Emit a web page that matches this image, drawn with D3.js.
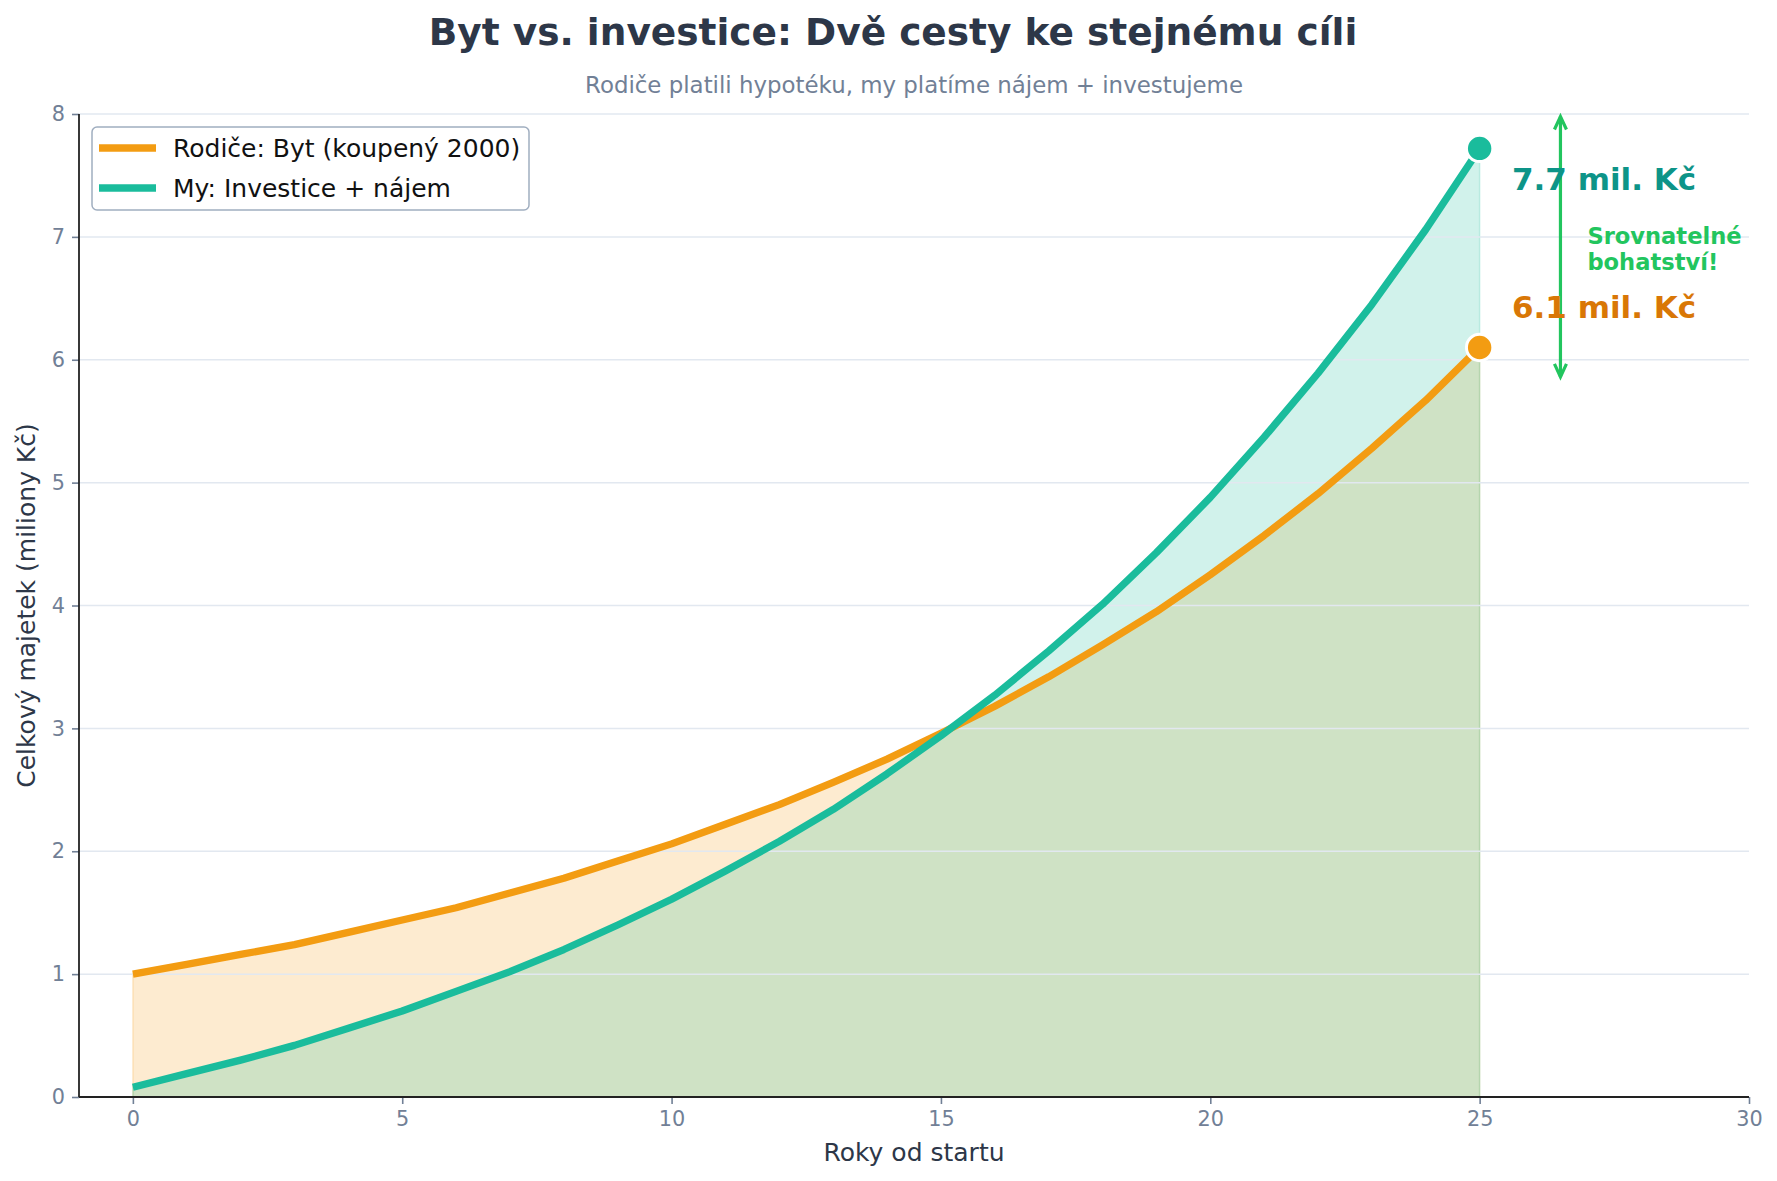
<!DOCTYPE html>
<html>
<head>
<meta charset="utf-8">
<script src="https://cdn.jsdelivr.net/npm/d3@7"></script>
<style>
  html, body { margin: 0; padding: 0; background: #ffffff; }
  svg { display: block; font-family: "DejaVu Sans", sans-serif; }
</style>
</head>
<body>
<svg id="chart" width="1777" height="1181"></svg>
<script>
// ---- data ----
const years = [0,1,2,3,4,5,6,7,8,9,10,11,12,13,14,15,16,17,18,19,20,21,22,23,24,25];
const parentsValues = [1.00,1.08,1.16,1.24,1.34,1.44,1.54,1.66,1.78,1.92,2.06,2.22,2.38,2.56,2.75,2.96,3.18,3.42,3.68,3.95,4.25,4.57,4.91,5.28,5.67,6.10];
const ourValues = [0.08,0.19,0.30,0.42,0.56,0.70,0.86,1.02,1.20,1.40,1.61,1.84,2.08,2.34,2.63,2.94,3.27,3.63,4.01,4.43,4.88,5.37,5.89,6.45,7.06,7.72];
const seriesNames = ["Rodiče: Byt (koupený 2000)", "My: Investice + nájem"];
const xTicks = [0,5,10,15,20,25,30];
const yTicks = [0,1,2,3,4,5,6,7,8];
const titleText = "Byt vs. investice: Dvě cesty ke stejnému cíli";
const subtitleText = "Rodiče platili hypotéku, my platíme nájem + investujeme";
const xLabel = "Roky od startu";
const yLabel = "Celkový majetek (miliony Kč)";
const endLabels = ["6.1 mil. Kč", "7.7 mil. Kč"];
const noteLines = ["Srovnatelné", "bohatství!"];
const arrowRange = [5.86, 7.98];
const arrowX = 26.5;
const labelX = 25.6;
const noteX = 27.0;

// ---- styles ----
const ORANGE = "#f39c12", TEAL = "#1abc9c";
const ORANGE_TXT = "#d97706", TEAL_TXT = "#0d9488", GREEN = "#22c55e";
const LW = 7.3;

const svg = d3.select("#chart");
const m = { left: 79, right: 1749, top: 114, bottom: 1097 };

const x = d3.scaleLinear().domain([-1, 30]).range([m.left, m.right]);
const y = d3.scaleLinear().domain([0, 8]).range([m.bottom, m.top]);

const parents = years.map((yr, i) => ({ x: yr, y: parentsValues[i] }));
const ours = years.map((yr, i) => ({ x: yr, y: ourValues[i] }));

// fills
const area = d3.area().x(d => x(d.x)).y0(y(0)).y1(d => y(d.y));
svg.append("path").datum(parents).attr("d", area)
  .attr("fill", ORANGE).attr("fill-opacity", 0.2)
  .attr("stroke", ORANGE).attr("stroke-opacity", 0.2).attr("stroke-width", 1.5);
svg.append("path").datum(ours).attr("d", area)
  .attr("fill", TEAL).attr("fill-opacity", 0.2)
  .attr("stroke", TEAL).attr("stroke-opacity", 0.2).attr("stroke-width", 1.5);

// grid
svg.append("g").selectAll("line").data(yTicks).join("line")
  .attr("x1", m.left).attr("x2", m.right)
  .attr("y1", d => y(d)).attr("y2", d => y(d))
  .attr("stroke", "#e2e8f0").attr("stroke-width", 1.5);

// axes
const xAxis = svg.append("g").attr("transform", `translate(0,${m.bottom})`)
  .call(d3.axisBottom(x).tickValues(xTicks).tickSize(7).tickPadding(7).tickFormat(d3.format("d")));
const yAxis = svg.append("g").attr("transform", `translate(${m.left},0)`)
  .call(d3.axisLeft(y).tickValues(yTicks).tickSize(7).tickPadding(7).tickFormat(d3.format("d")));
[xAxis, yAxis].forEach(g => {
  g.select(".domain").remove();
  g.selectAll(".tick line").attr("stroke", "#718096").attr("stroke-width", 1.6);
  g.selectAll(".tick text").attr("fill", "#718096")
    .style("font-family", "DejaVu Sans").style("font-size", "20.8px");
});
// spines
svg.append("line").attr("x1", m.left).attr("x2", m.right).attr("y1", m.bottom).attr("y2", m.bottom)
  .attr("stroke", "#222").attr("stroke-width", 1.8);
svg.append("line").attr("x1", m.left).attr("x2", m.left).attr("y1", m.top).attr("y2", m.bottom)
  .attr("stroke", "#222").attr("stroke-width", 1.8);

// lines
const line = d3.line().x(d => x(d.x)).y(d => y(d.y));
svg.append("path").datum(parents).attr("d", line)
  .attr("fill", "none").attr("stroke", ORANGE).attr("stroke-width", LW).attr("stroke-linejoin", "round");
svg.append("path").datum(ours).attr("d", line)
  .attr("fill", "none").attr("stroke", TEAL).attr("stroke-width", LW).attr("stroke-linejoin", "round");

// end markers
const lastP = parents[parents.length - 1], lastO = ours[ours.length - 1];
[[lastP, ORANGE], [lastO, TEAL]].forEach(([d, c]) => {
  svg.append("circle").attr("cx", x(d.x)).attr("cy", y(d.y)).attr("r", 13.2)
    .attr("fill", c).attr("stroke", "#fff").attr("stroke-width", 3);
});

// arrow
const ax = x(arrowX), ay1 = y(arrowRange[0]), ay2 = y(arrowRange[1]);
svg.append("line").attr("x1", ax).attr("x2", ax).attr("y1", ay1).attr("y2", ay2)
  .attr("stroke", GREEN).attr("stroke-width", 3.2);
svg.append("path").attr("d", `M${ax-6},${ay2+13} L${ax},${ay2} L${ax+6},${ay2+13}`)
  .attr("fill", "none").attr("stroke", GREEN).attr("stroke-width", 3.2);
svg.append("path").attr("d", `M${ax-6},${ay1-13} L${ax},${ay1} L${ax+6},${ay1-13}`)
  .attr("fill", "none").attr("stroke", GREEN).attr("stroke-width", 3.2);

// value labels
svg.append("text").attr("x", x(labelX)).attr("y", y(lastO.y - 0.25))
  .attr("dominant-baseline", "central").attr("fill", TEAL_TXT)
  .style("font-size", "31px").style("font-weight", "bold").text(endLabels[1]);
svg.append("text").attr("x", x(labelX)).attr("y", y(lastP.y + 0.33))
  .attr("dominant-baseline", "central").attr("fill", ORANGE_TXT)
  .style("font-size", "31px").style("font-weight", "bold").text(endLabels[0]);

// note
const noteMid = (lastP.y + lastO.y) / 2;
const note = svg.append("text").attr("x", x(noteX)).attr("y", y(noteMid) - 12)
  .attr("fill", GREEN).style("font-size", "22.6px").style("font-weight", "bold");
noteLines.forEach((t, i) => note.append("tspan").attr("x", x(noteX)).attr("dy", i === 0 ? "0" : "26")
  .attr("dominant-baseline", "central").text(t));

// legend
const lg = svg.append("g");
lg.append("rect").attr("x", 92).attr("y", 127).attr("width", 437).attr("height", 83)
  .attr("rx", 5).attr("fill", "#fff").attr("fill-opacity", 0.85)
  .attr("stroke", "#a0aec0").attr("stroke-width", 1.5);
[[seriesNames[0], ORANGE, 148], [seriesNames[1], TEAL, 188]].forEach(([t, c, yy]) => {
  lg.append("line").attr("x1", 99).attr("x2", 156).attr("y1", yy).attr("y2", yy)
    .attr("stroke", c).attr("stroke-width", LW);
  lg.append("text").attr("x", 173).attr("y", yy).attr("dominant-baseline", "central")
    .attr("fill", "#111").style("font-size", "25px").text(t);
});

// titles
svg.append("text").attr("x", 893).attr("y", 45).attr("text-anchor", "middle")
  .attr("fill", "#2d3748")
  .style("font-size", "37.5px").style("font-weight", "bold").text(titleText);
svg.append("text").attr("x", (m.left + m.right) / 2).attr("y", 93.3).attr("text-anchor", "middle")
  .attr("fill", "#718096")
  .style("font-size", "22.9px").text(subtitleText);
svg.append("text").attr("x", (m.left + m.right) / 2).attr("y", 1152).attr("text-anchor", "middle")
  .attr("dominant-baseline", "central").attr("fill", "#2d3748")
  .style("font-size", "25px").text(xLabel);
svg.append("text").attr("transform", `translate(26,${(m.top + m.bottom) / 2}) rotate(-90)`)
  .attr("text-anchor", "middle").attr("dominant-baseline", "central").attr("fill", "#2d3748")
  .style("font-size", "25px").text(yLabel);
</script>
</body>
</html>
